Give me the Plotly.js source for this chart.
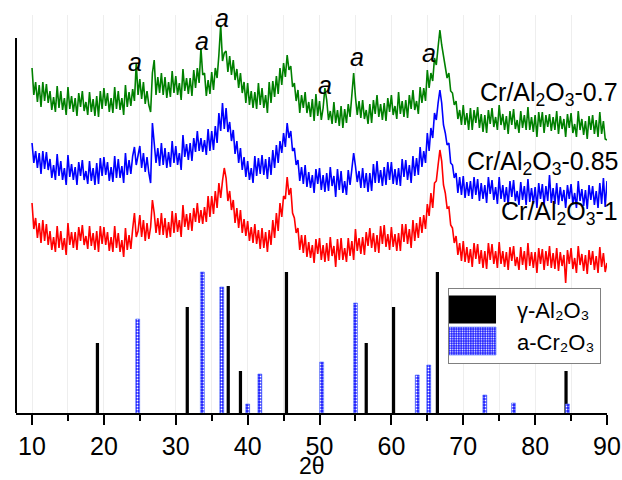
<!DOCTYPE html>
<html><head><meta charset="utf-8">
<script src="https://cdn.plot.ly/plotly-3.0.1.min.js"></script>
<style>html,body{margin:0;padding:0;background:#fff}#chart{width:622px;height:480px}</style>
</head><body><div id="chart"></div>
<script>
// XRD scans: 2θ from 10 to 90, step 0.25 (offset stacked intensity)
const scanStart = 10, scanStep = 0.25;
const green07 = [
345,318,331,311, 328,306,331,312, 329,310,322,303, 316,301,327,305, 322,303,315,298,
326,304,317,301, 315,297,320,306, 322,302,311,298, 321,301,314,297, 317,296,322,304,
325,307,320,301, 315,300,326,304, 322,303,315,298, 328,306,321,307, 324,312,350,318,
334,314,331,309, 322,308,301,340, 353,318,336,320, 340,318,336,315, 331,316,342,320,
337,318,330,313, 344,322,335,319, 335,317,343,325, 345,330,365,338, 340,317,333,319,
341,323,345,335, 358,388,352,360, 362,341,357,338, 353,333,344,325, 340,320,331,310,
330,308,322,305, 321,304,330,308, 325,305,318,300, 331,310,332,316, 337,319,345,328,
350,336,358,343, 347,326,330,312, 323,300,318,305, 321,300,311,296, 314,292,319,297,
312,293,305,325, 313,293,302,289, 311,290,303,287, 307,285,304,290, 309,296,318,340,
316,298,312,295, 313,294,303,289, 309,290,313,299, 318,296,309,293, 310,292,315,301,
318,298,307,294, 321,299,312,296, 313,295,318,304, 323,303,312,299, 326,310,325,312,
343,325,340,332, 355,348,366,383, 368,356,345,335, 340,322,320,308, 312,294,303,288,
308,288,300,283, 305,283,303,290, 306,285,299,281, 298,280,303,289, 305,286,296,283,
308,288,299,283, 297,279,302,288, 304,284,293,280, 302,285,298,283, 306,283,296,281,
298,276,301,286, 301,280,298,286, 299,282,296,283, 302,279,297,284, 294,276,299,285,
300,280,289,276, 302,283,294,278, 292,274,297,283, 298,279,293,276, 301,279,292,274,
273];
const blue085 = [
270,250,262,245, 260,239,262,244, 261,243,254,235, 248,233,259,237, 252,233,245,228,
258,236,249,233, 246,228,251,237, 253,233,242,229, 252,232,245,228, 250,229,255,237,
256,238,251,232, 246,231,257,235, 254,235,247,230, 260,238,253,239, 257,266,248,256,
267,245,260,241, 256,240,230,290, 272,250,265,247, 270,248,265,245, 261,246,272,250,
267,248,260,243, 278,256,269,253, 270,252,275,261, 282,262,275,261, 273,258,284,262,
282,263,287,270, 300,282,310,284, 305,281,291,272, 283,259,272,250, 265,243,256,236,
252,233,245,230, 257,237,255,239, 258,238,254,234, 256,238,263,245, 268,250,272,260,
280,266,290,275, 282,262,265,248, 253,232,246,229, 248,226,241,225, 238,220,244,229,
245,223,238,221, 240,222,246,227, 237,216,244,223, 242,220,232,218, 243,228,244,260,
247,231,242,225, 245,225,240,221, 240,222,249,230, 252,230,243,227, 246,228,251,233,
251,229,244,228, 245,227,254,236, 253,233,248,230, 257,237,255,238, 266,246,262,250,
280,262,285,275, 300,293,310,323, 310,288,280,268, 270,250,248,235, 240,220,236,218,
237,215,231,217, 232,214,236,218, 234,212,230,214, 228,210,236,219, 233,213,226,209,
236,214,228,211, 226,208,232,216, 233,212,222,208, 231,213,227,208, 234,211,225,209,
226,205,230,214, 229,208,227,212, 238,210,225,209, 230,208,226,212, 223,205,228,214,
229,209,220,205, 232,212,224,207, 223,204,228,213, 227,208,222,205, 230,209,235,206,
232];
const red1 = [
210,184,195,175, 190,170,193,172, 189,168,182,163, 176,161,187,165, 182,163,175,158,
190,168,181,165, 181,163,186,172, 188,168,177,164, 187,167,180,163, 182,161,187,169,
186,168,181,162, 176,161,187,165, 180,161,173,156, 185,163,178,164, 184,200,176,182,
198,176,193,172, 190,174,186,213, 200,180,195,178, 200,178,195,175, 191,176,202,180,
200,181,193,176, 208,186,199,183, 200,182,205,191, 210,190,203,189, 206,191,217,196,
217,199,222,205, 230,215,232,245, 235,212,222,203, 213,190,205,185, 203,180,194,177,
192,172,186,170, 189,169,183,164, 185,165,181,161, 183,168,193,175, 200,182,210,196,
217,214,236,218, 225,200,195,180, 185,163,178,160, 178,156,171,155, 168,150,174,159,
175,153,168,151, 170,152,176,157, 167,146,174,153, 175,153,165,151, 175,157,172,153,
184,162,175,159, 176,158,181,167, 185,165,180,161, 178,160,187,169, 188,166,179,163,
186,166,179,162, 180,162,189,171, 189,169,184,165, 193,172,190,175, 196,180,198,184,
209,197,220,205, 230,232,248,263, 252,228,220,205, 206,188,185,170, 177,158,170,152,
172,151,166,150, 164,146,170,154, 169,149,163,145, 162,144,170,153, 169,149,162,145,
171,149,162,146, 161,143,166,152, 167,147,156,143, 166,148,162,143, 170,147,161,145,
161,140,165,149, 164,143,162,147, 167,145,160,144, 165,142,161,147, 158,130,163,149,
165,144,155,140, 167,148,159,142, 158,139,163,148, 162,143,157,140, 166,146,160,141,
150];
// Reference patterns (stick positions and relative heights)
const alPos = [19.1, 31.6, 37.3, 39.0, 45.4, 56.5, 60.3, 66.4, 84.3];
const alInt = [70, 106, 127, 42, 141, 70, 106, 141, 42];
const crPos = [24.7, 33.7, 36.4, 40.0, 41.7, 50.3, 55.0, 63.6, 65.2, 73.0, 77.0, 84.5];
const crInt = [94, 141, 126, 9, 39, 51, 110, 38, 48, 18, 10, 9];
// Peak markers "a"
const aPos = [24.3, 33.6, 36.5, 50.8, 55.2, 65.3];
const aInt = [351, 372, 395, 328, 356, 360];
// Sample labels
const sampleNames = ['Cr/Al<sub>2</sub>O<sub>3</sub>-0.7', 'Cr/Al<sub>2</sub>O<sub>3</sub>-0.85', 'Cr/Al<sub>2</sub>O<sub>3</sub>-1'];
const sampleLabelY = [319, 250, 200];
const legendNames = ['γ-Al₂O₃', 'a-Cr₂O₃'];
const xTicks = [10, 20, 30, 40, 50, 60, 70, 80, 90];
const xTitle = '2θ';

const FONT = 'Liberation Sans, Arial, sans-serif';
const traces = [
  {type:'scatter', mode:'lines', x0:scanStart, dx:scanStep, y:green07, line:{color:'#008000', width:1.6}, showlegend:false, hoverinfo:'skip'},
  {type:'scatter', mode:'lines', x0:scanStart, dx:scanStep, y:blue085, line:{color:'#0000ff', width:1.6}, showlegend:false, hoverinfo:'skip'},
  {type:'scatter', mode:'lines', x0:scanStart, dx:scanStep, y:red1, line:{color:'#ff0000', width:1.6}, showlegend:false, hoverinfo:'skip'},
  {type:'bar', name:legendNames[0], x:alPos, y:alInt, width:0.45, marker:{color:'#000000', line:{width:0}}},
  {type:'bar', name:legendNames[1], x:crPos, y:crInt, width:0.55,
   marker:{color:'#1a1aff', line:{color:'#4d6bff', width:0.6},
   pattern:{shape:'.', fillmode:'replace', bgcolor:'#1a1aff', fgcolor:'#ffffff', size:3, solidity:0.3}}}
];
const annotations = [];
aPos.forEach((p,i)=>annotations.push({x:p, y:aInt[i], xref:'x', yref:'y', text:'<i>a</i>', showarrow:false,
  font:{family:FONT, size:25, color:'#000'}, xanchor:'center', yanchor:'middle'}));
sampleNames.forEach((n,i)=>annotations.push({x:1.022, y:sampleLabelY[i], xref:'paper', yref:'y', text:n, showarrow:false,
  font:{family:FONT, size:25, color:'#000'}, xanchor:'right', yanchor:'middle'}));
annotations.push({x:0.5, y:-0.133, xref:'paper', yref:'paper', text:xTitle, showarrow:false, borderpad:0,
  font:{family:FONT, size:23, color:'#000'}, xanchor:'center', yanchor:'middle'});

const layout = {
  width:622, height:480,
  margin:{l:16, r:15, t:15, b:67},
  paper_bgcolor:'#ffffff', plot_bgcolor:'#ffffff',
  barmode:'overlay',
  font:{family:FONT, color:'#000'},
  xaxis:{range:[7.77, 90], tickvals:xTicks, ticks:'outside', ticklen:10, tickwidth:2, tickcolor:'#000',
    showline:true, linecolor:'#000', linewidth:2, zeroline:false,
    showgrid:true, gridcolor:'#eeeeee', gridwidth:1,
    minor:{dtick:5, tick0:5, ticks:'outside', ticklen:6, tickwidth:2, tickcolor:'#000', showgrid:true, gridcolor:'#eeeeee'},
    tickfont:{family:FONT, size:25, color:'#000'},
    title:{text:''}},
  yaxis:{range:[0, 398], showline:false, showticklabels:false, ticks:'', showgrid:false, zeroline:false},
  shapes:[{type:'line', xref:'paper', yref:'y', x0:0, x1:0, y0:0, y1:375, line:{color:'#000', width:2}}],
  legend:{x:0.731, y:0.315, xanchor:'left', yanchor:'top', bgcolor:'#ffffff', bordercolor:'#808080', borderwidth:1,
    font:{family:FONT, size:22, color:'#000'}, traceorder:'normal', itemwidth:58, tracegroupgap:0},
  annotations:annotations
};
Plotly.newPlot('chart', traces, layout, {staticPlot:true, displayModeBar:false}).then(()=>{
  // enlarge the legend swatches to the wide blocks of the reference
  document.querySelectorAll('.legend .legendpoints path').forEach(p=>{
    p.setAttribute('d','M30,14H-30V-14H30Z');
    p.setAttribute('transform','translate(17,0)');
  });
});
</script>
</body></html>
